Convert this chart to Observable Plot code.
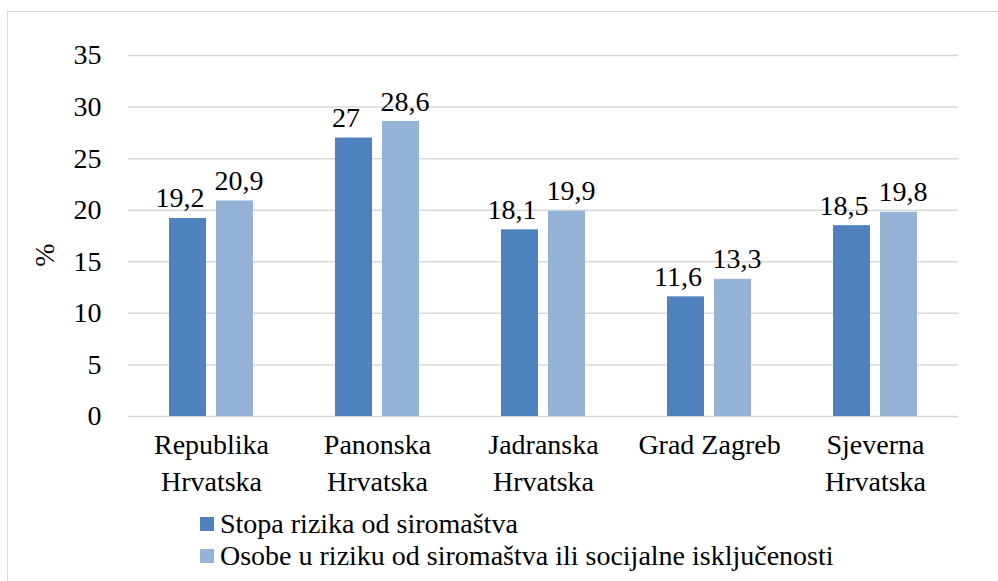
<!DOCTYPE html>
<html>
<head>
<meta charset="utf-8">
<script src="https://cdn.jsdelivr.net/npm/d3@7"></script>
<script src="https://cdn.jsdelivr.net/npm/@observablehq/plot@0.6"></script>
</head>
<body style="margin:0;background:#fff">
<div id="wrap" style="position:relative;width:998px;height:581px;overflow:hidden;font-family:'Liberation Serif'">
  <div id="frame" style="position:absolute;left:7px;top:11px;right:-10px;bottom:-10px;border-left:1.5px solid #d9d9d9;border-top:1.5px solid #d9d9d9"></div>
  <div id="chart" style="position:absolute;left:0;top:0;font-family:'Liberation Serif'"></div>
  <div id="ylab" style="position:absolute;left:45px;top:255px;font-size:28px;font-family:'Liberation Serif';transform:translate(-50%,-50%) rotate(-90deg)">%</div>
  <div id="legend" style="position:absolute;left:200px;top:508px;font-size:28px;color:#000;line-height:32px;font-family:'Liberation Serif'"></div>
</div>
<script>
const categories = ["Republika\nHrvatska", "Panonska\nHrvatska", "Jadranska\nHrvatska", "Grad Zagreb", "Sjeverna\nHrvatska"];
const seriesNames = ["Stopa rizika od siromaštva", "Osobe u riziku od siromaštva ili socijalne isključenosti"];
const stopaRizika = [19.2, 27, 18.1, 11.6, 18.5];
const osobeURiziku = [20.9, 28.6, 19.9, 13.3, 19.8];
const yTicks = [0, 5, 10, 15, 20, 25, 30, 35];
const colors = ["#4f81bd", "#95b3d7"];

const data = [];
categories.forEach((c, i) => {
  data.push({cat: c, s: seriesNames[0], v: stopaRizika[i]});
  data.push({cat: c, s: seriesNames[1], v: osobeURiziku[i]});
});
const fmt = d => String(d).replace(".", ",");

const chart = Plot.plot({
  width: 998,
  height: 500,
  marginTop: 55,
  marginBottom: 84,
  marginLeft: 127,
  marginRight: 40,
  style: "font-family:'Liberation Serif';font-size:28px;color:#000;background:transparent",
  fx: {domain: categories, padding: 0, label: null},
  x: {domain: seriesNames, paddingInner: 0.213, paddingOuter: 0.87, axis: null},
  y: {domain: [0, 35], ticks: yTicks, label: null},
  color: {domain: seriesNames, range: colors},
  marks: [
    Plot.gridY(yTicks, {stroke: "#d9d9d9", strokeOpacity: 1, strokeWidth: 1.5}),
    Plot.barY(data, {fx: "cat", x: "s", y: "v", fill: "s"}),
    Plot.text(data.filter(d => d.s === seriesNames[0]), {fx: "cat", x: "s", y: "v", text: d => fmt(d.v),
      lineAnchor: "bottom", dy: -11, dx: -8, fontSize: 28, fill: "#000"}),
    Plot.text(data.filter(d => d.s === seriesNames[1]), {fx: "cat", x: "s", y: "v", text: d => fmt(d.v),
      lineAnchor: "bottom", dy: -11, dx: 4, fontSize: 28, fill: "#000"}),
    Plot.axisY({ticks: yTicks, tickSize: 0, tickPadding: 27, fontSize: 28, label: null}),
    Plot.axisFx({anchor: "bottom", tickSize: 0, tickPadding: 12, fontSize: 28, lineHeight: 1.3, label: null})
  ]
});
chart.setAttribute("font-family", "Liberation Serif");
chart.style.fontFamily = "'Liberation Serif'";
chart.querySelectorAll("text").forEach(t => t.setAttribute("font-family", "Liberation Serif"));
document.getElementById("chart").appendChild(chart);

const legend = document.getElementById("legend");
seriesNames.forEach((n, i) => {
  const row = document.createElement("div");
  row.style.cssText = "display:flex;align-items:center;white-space:nowrap;font-family:'Liberation Serif'";
  const sw = document.createElement("span");
  sw.style.cssText = "width:14px;height:14px;margin-right:6px;display:inline-block;background:" + colors[i];
  row.appendChild(sw);
  row.appendChild(document.createTextNode(n));
  legend.appendChild(row);
});
</script>
</body>
</html>
